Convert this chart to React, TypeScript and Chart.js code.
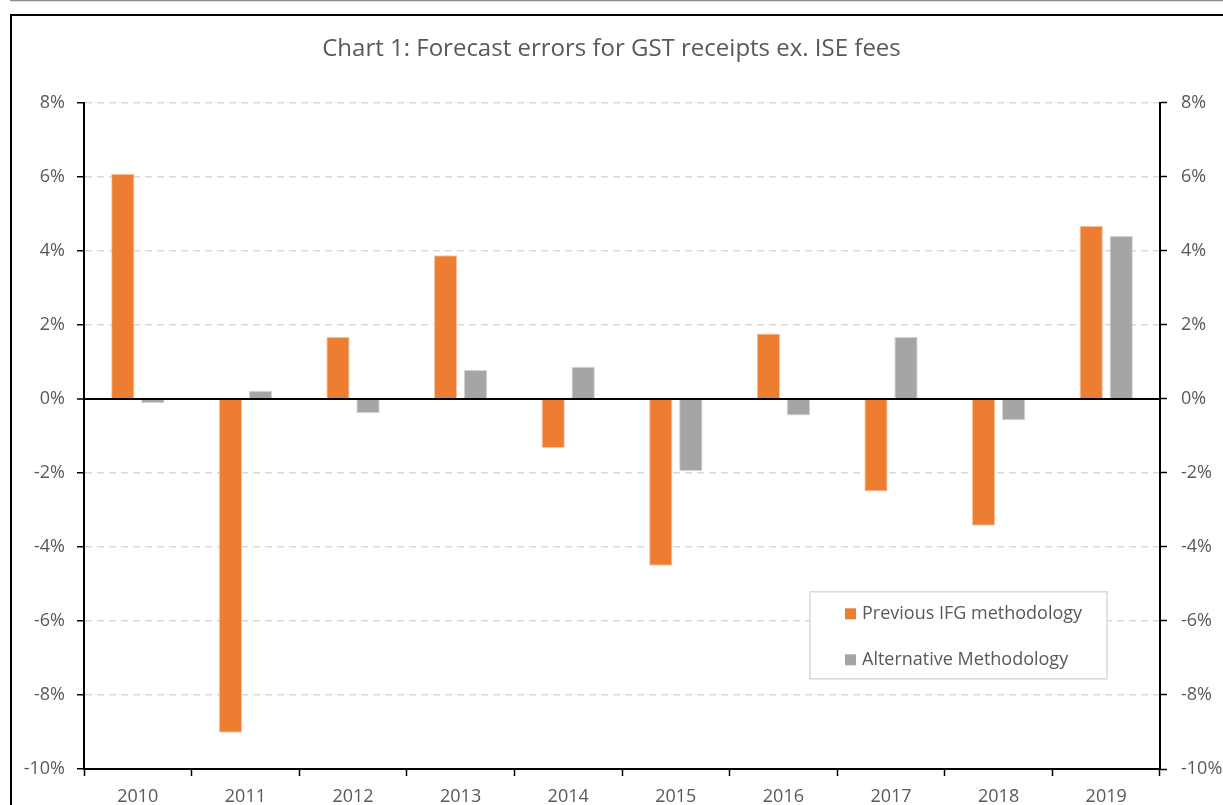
import React, { useEffect, useRef } from "react";
import { Chart, registerables } from "chart.js";

Chart.register(...registerables);

const titleText = "Chart 1: Forecast errors for GST receipts ex. ISE fees";
const years = ["2010", "2011", "2012", "2013", "2014", "2015", "2016", "2017", "2018", "2019"];
const previousIFG = [6.08, -9.02, 1.68, 3.88, -1.33, -4.51, 1.77, -2.5, -3.43, 4.68];
const alternative = [-0.11, 0.22, -0.39, 0.78, 0.87, -1.95, -0.45, 1.67, -0.58, 4.4];
const seriesLabels = ["Previous IFG methodology", "Alternative Methodology"];
const seriesColors = ["#ED7D31", "#A5A5A5"];
const yMin = -10;
const yMax = 8;
const yStep = 2;

const FONT = "'Open Sans', 'Noto Sans', sans-serif";
const TEXT = "#595959";

const framePlugin = {
  id: "frame",
  beforeDraw(chart: any) {
    const ctx = chart.ctx;
    ctx.save();
    ctx.fillStyle = "#ffffff";
    ctx.fillRect(0, 0, chart.width, chart.height);
    ctx.strokeStyle = "#8c8c8c";
    ctx.lineWidth = 1.5;
    ctx.beginPath();
    ctx.moveTo(10, 0.5);
    ctx.lineTo(chart.width, 0.5);
    ctx.stroke();
    ctx.strokeStyle = "#000000";
    ctx.lineWidth = 2;
    ctx.beginPath();
    ctx.moveTo(11, chart.height + 5);
    ctx.lineTo(11, 15);
    ctx.lineTo(chart.width + 5, 15);
    ctx.stroke();
    ctx.restore();
  },
};

const legendPlugin = {
  id: "boxLegend",
  afterDraw(chart: any) {
    const ctx = chart.ctx;
    const a = chart.chartArea;
    const bx = a.left + 726;
    const by = a.top + 489;
    const bw = 297;
    const bh = 87;
    ctx.save();
    ctx.fillStyle = "#ffffff";
    ctx.fillRect(bx, by, bw, bh);
    ctx.strokeStyle = "#d9d9d9";
    ctx.lineWidth = 1.5;
    ctx.strokeRect(bx, by, bw, bh);
    ctx.font = `18px ${FONT}`;
    ctx.textBaseline = "middle";
    ctx.textAlign = "left";
    chart.data.datasets.forEach((ds: any, i: number) => {
      const cy = by + 22 + i * 46;
      ctx.fillStyle = ds.backgroundColor;
      ctx.fillRect(bx + 35, cy - 5.5, 11, 11);
      ctx.fillStyle = TEXT;
      ctx.fillText(ds.label, bx + 52, cy);
    });
    ctx.restore();
  },
};

export default function App() {
  const ref = useRef<HTMLCanvasElement | null>(null);
  useEffect(() => {
    if (!ref.current) return;
    const tickFont = { family: FONT, size: 18 };
    const chart = new Chart(ref.current, {
      type: "bar",
      data: {
        labels: years,
        datasets: [
          {
            label: seriesLabels[0],
            data: previousIFG,
            backgroundColor: seriesColors[0],
            borderColor: "#f6c9a8",
            borderWidth: 1,
            yAxisID: "y",
          },
          {
            label: seriesLabels[1],
            data: alternative,
            backgroundColor: seriesColors[1],
            borderColor: "#d2d2d2",
            borderWidth: 1,
            yAxisID: "y",
          },
        ],
      },
      options: {
        animation: false,
        responsive: false,
        maintainAspectRatio: false,
        datasets: { bar: { categoryPercentage: 0.558, barPercentage: 0.777 } },
        layout: { padding: { left: 0, right: 0, top: 0, bottom: 0 } },
        plugins: {
          legend: { display: false },
          tooltip: { enabled: false },
          title: {
            display: true,
            text: titleText,
            color: TEXT,
            font: { family: FONT, size: 24, weight: "normal" },
            padding: { top: 35, bottom: 39 },
          },
        },
        scales: {
          x: {
            type: "category",
            offset: true,
            afterFit: (s: any) => {
              s.height = 36;
            },
            grid: {
              offset: true,
              drawOnChartArea: false,
              drawTicks: true,
              tickLength: 7,
              tickColor: "#000000",
              tickWidth: 1.5,
            },
            border: { display: true, color: "#000000", width: 2 },
            ticks: { color: TEXT, font: tickFont, padding: 10, maxRotation: 0 },
          },
          y: {
            type: "linear",
            position: "left",
            min: yMin,
            max: yMax,
            afterFit: (s: any) => {
              s.width = 84;
            },
            grid: {
              color: (c: any) => {
                const v = c.tick ? c.tick.value : null;
                if (v === 0) return "#000000";
                if (v === yMin) return "rgba(0,0,0,0)";
                return "#d9d9d9";
              },
              lineWidth: (c: any) => (c.tick && c.tick.value === 0 ? 2 : 1.5),
              drawTicks: true,
              tickLength: 7,
              tickColor: "#000000",
              tickWidth: 1.5,
            },
            border: {
              display: true,
              color: "#000000",
              width: 2,
              dash: (c: any) => (c.tick && c.tick.value === 0 ? [] : [7, 5]),
            },
            ticks: {
              stepSize: yStep,
              color: TEXT,
              font: tickFont,
              padding: 12,
              callback: (v: any) => `${v}%`,
            },
          },
          y2: {
            type: "linear",
            position: "right",
            min: yMin,
            max: yMax,
            afterFit: (s: any) => {
              s.width = 63;
            },
            grid: {
              drawOnChartArea: false,
              drawTicks: true,
              tickLength: 7,
              tickColor: "#000000",
              tickWidth: 1.5,
            },
            border: { display: true, color: "#000000", width: 2 },
            ticks: {
              stepSize: yStep,
              color: TEXT,
              font: tickFont,
              padding: 14,
              callback: (v: any) => `${v}%`,
            },
          },
        },
      },
      plugins: [framePlugin, legendPlugin],
    } as any);
    return () => chart.destroy();
  }, []);
  return (
    <div style={{ position: "fixed", left: 0, top: 0, width: 1223, height: 805, background: "#fff" }}>
      <canvas ref={ref} width={1223} height={805} style={{ display: "block", width: 1223, height: 805 }} />
    </div>
  );
}
